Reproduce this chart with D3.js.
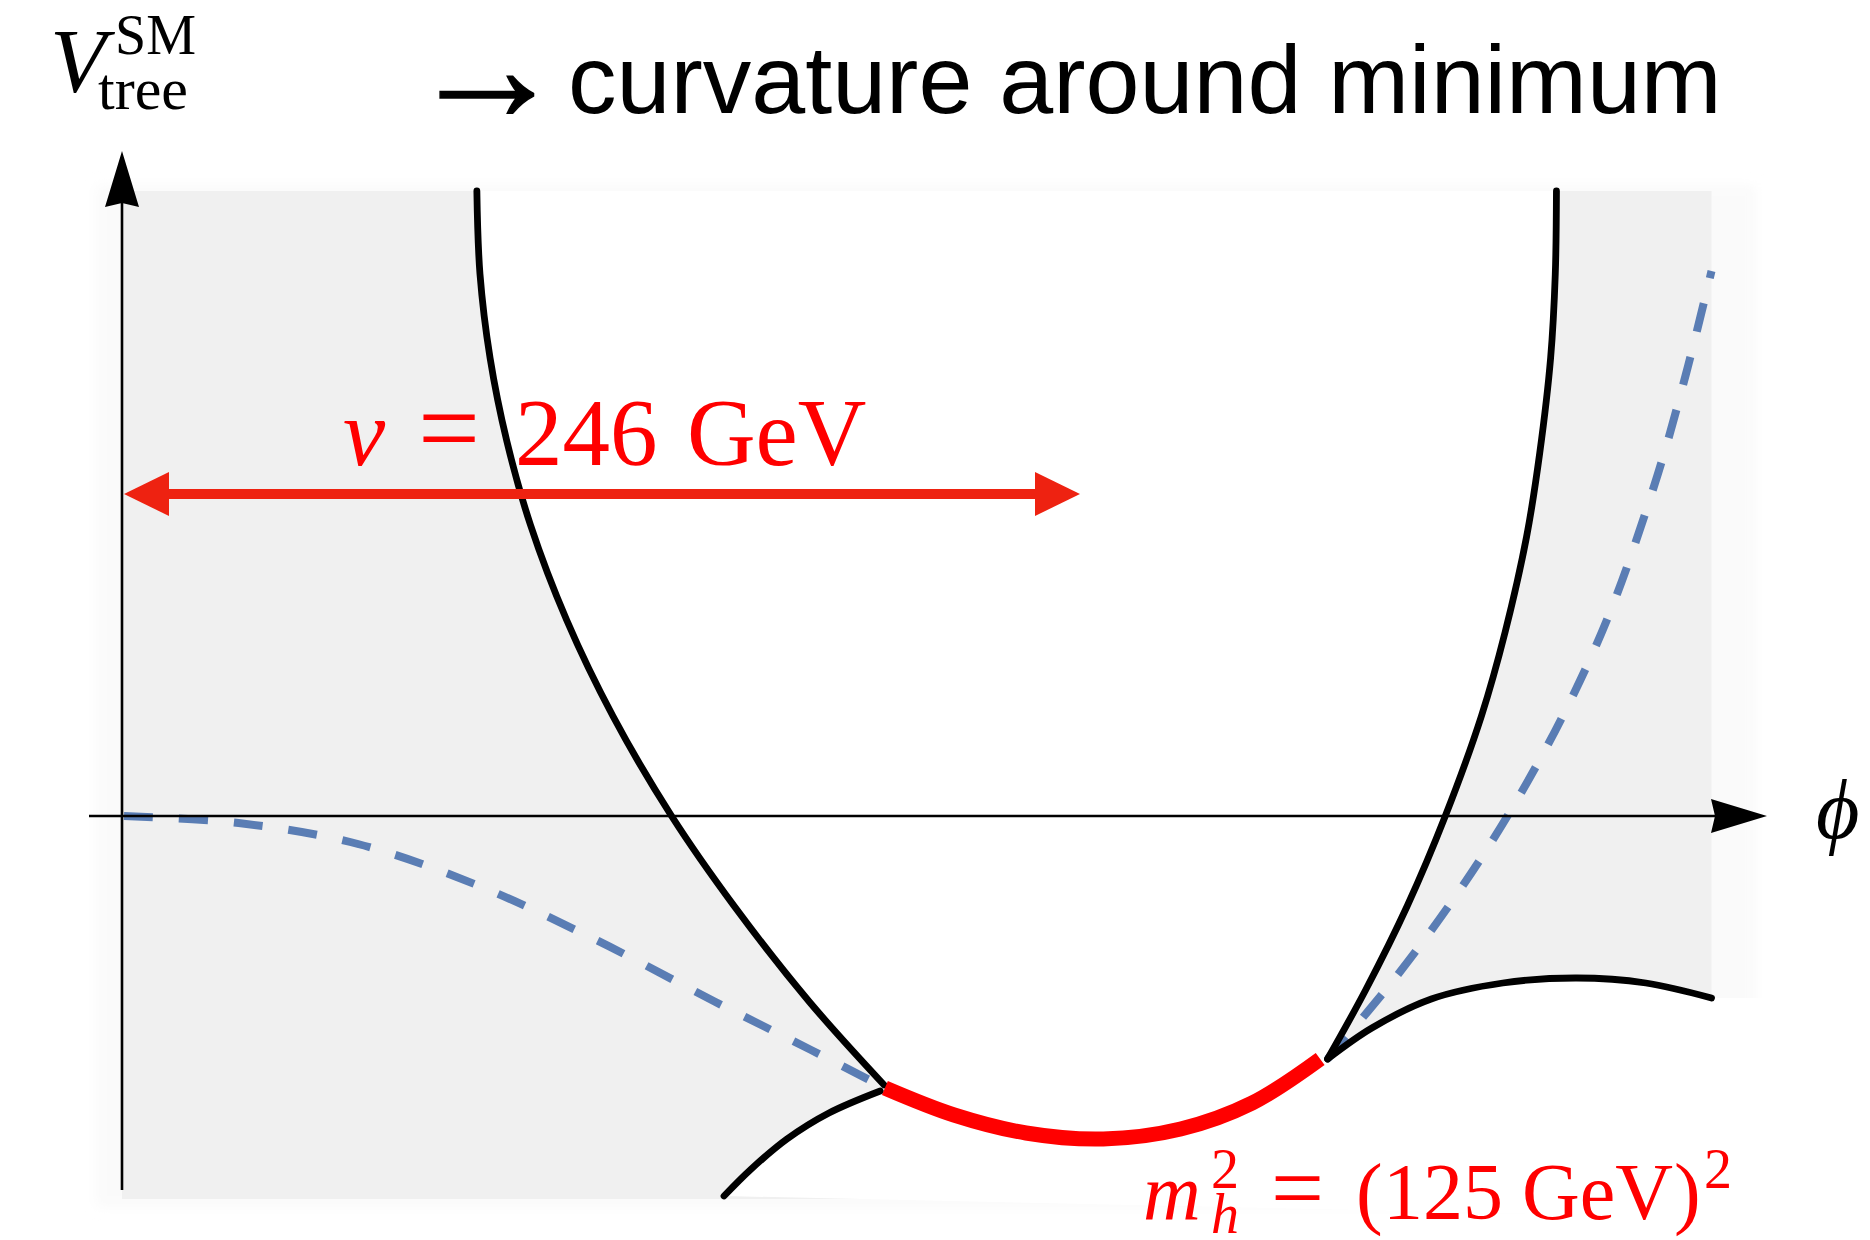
<!DOCTYPE html>
<html>
<head>
<meta charset="utf-8">
<script src="https://cdn.jsdelivr.net/npm/d3@7"></script>
<style>
  html, body { margin: 0; padding: 0; background: #ffffff; }
  svg { display: block; }
</style>
</head>
<body>
<script>
// Sketch of the tree-level Higgs potential: phi in GeV, V in arbitrary units.
const vev = 246;                 // v = 246 GeV
const mh = 125;                  // m_h = 125 GeV
const phiRight = 408.5;          // right edge of the shaded band
const vTop = 6.25, vBottom = -3.83;

// Steep black walls bounding the allowed (white) region
const leftWall  = [[90.8,6.25],[91.6,5.42],[94.2,4.58],[98.5,3.75],[104.6,2.91],[113.9,1.96],
                   [125.8,1.00],[140.9,0.00],[157.0,-0.90],[176.4,-1.86],[195.6,-2.69]];
const leftFoot  = [[194.6,-2.75],[181.4,-2.97],[170.6,-3.23],[161.4,-3.53],[154.4,-3.80]];
const rightWall = [[368.6,6.25],[368.3,5.42],[367.1,4.58],[364.3,3.63],[360.9,2.79],[355.4,1.84],
                   [349.3,1.00],[340.0,0.00],[330.2,-0.90],[319.5,-1.74],[309.7,-2.43]];
const rightFoot = [[309.7,-2.43],[321.1,-2.12],[336.4,-1.83],[354.8,-1.67],[373.8,-1.62],
                   [391.6,-1.67],[408.5,-1.82]];

// Quadratic approximation around the minimum (red)
const curvature = [[195.8,-2.72],[213.6,-2.99],[232.1,-3.17],[252.0,-3.23],[271.9,-3.13],
                   [290.3,-2.87],[307.8,-2.43]];

// Full potential (dashed blue), visible on both sides of the minimum
const potentialLeft  = [[0,0],[29.5,-0.07],[60.2,-0.28],[90.8,-0.69],[121.5,-1.24],[152.2,-1.86],
                        [176.8,-2.34],[195.8,-2.72]];
const potentialRight = [[309.7,-2.43],[327.1,-1.62],[342.5,-0.81],[356.3,0.02],[370.1,0.99],
                        [382.4,2.04],[394.7,3.42],[402.4,4.49],[408.5,5.45]];

const vArrowLevel = 3.22;        // height of the v double arrow

const W = 1870, H = 1240;
const x = d3.scaleLinear().domain([0, vev]).range([124, 1080]);
const y = d3.scaleLinear().domain([0, vTop]).range([816, 191]);

const svg = d3.select("body").append("svg")
  .attr("width", W).attr("height", H)
  .attr("viewBox", `0 0 ${W} ${H}`);

const line = d3.line()
  .x(d => x(d[0])).y(d => y(d[1]))
  .curve(d3.curveCatmullRom.alpha(0.5));

// soft halo around the band
const defs = svg.append("defs");
defs.append("filter").attr("id", "haze")
  .attr("x", "-5%").attr("y", "-5%").attr("width", "110%").attr("height", "110%")
  .append("feGaussianBlur").attr("stdDeviation", 6);
svg.append("rect")
  .attr("x", x(0) - 28).attr("y", y(vTop) - 6)
  .attr("width", x(phiRight) - x(0) + 72).attr("height", y(vBottom) - y(vTop) + 14)
  .attr("fill", "#fafafa").attr("filter", "url(#haze)");

// shaded band
svg.append("rect")
  .attr("x", x(0) - 2).attr("y", y(vTop))
  .attr("width", x(phiRight) - x(0) + 2).attr("height", y(vBottom) - y(vTop))
  .attr("fill", "#f0f0f0");

// allowed region between the walls
const seg = pts => line(pts).replace(/^M/, "L");
const whiteD = line(leftWall) + seg(leftFoot)
  + `L${x(phiRight) + 60},${y(vBottom) + 20}`
  + `L${x(phiRight) + 60},${y(rightFoot[rightFoot.length - 1][1])}`
  + seg(rightFoot.slice().reverse())
  + seg(rightWall.slice().reverse()) + "Z";
svg.append("path").attr("d", whiteD).attr("fill", "#ffffff");

// dashed full potential
[potentialLeft, potentialRight].forEach(pts => {
  svg.append("path").attr("d", line(pts))
    .attr("fill", "none").attr("stroke", "#5a7db4")
    .attr("stroke-width", 8).attr("stroke-dasharray", "29,26");
});

// black walls
[leftWall, leftFoot, rightWall, rightFoot].forEach(pts => {
  svg.append("path").attr("d", line(pts))
    .attr("fill", "none").attr("stroke", "#000000")
    .attr("stroke-width", 6.8).attr("stroke-linecap", "round");
});

// curvature around the minimum
svg.append("path").attr("d", line(curvature))
  .attr("fill", "none").attr("stroke", "#ff0000")
  .attr("stroke-width", 15).attr("stroke-linecap", "butt");

// axes
const axisX0 = 89, axisXTip = 1767, axisYTip = 151, axisYBottom = 1190;
const axX = x(0) - 2;
svg.append("line")
  .attr("x1", axisX0).attr("y1", y(0)).attr("x2", axisXTip - 40).attr("y2", y(0))
  .attr("stroke", "#000").attr("stroke-width", 2.6);
svg.append("path")
  .attr("d", `M${axisXTip},${y(0)} L${axisXTip - 56},${y(0) - 17} L${axisXTip - 52},${y(0)} L${axisXTip - 56},${y(0) + 17} Z`)
  .attr("fill", "#000");
svg.append("line")
  .attr("x1", axX).attr("y1", axisYBottom).attr("x2", axX).attr("y2", axisYTip + 40)
  .attr("stroke", "#000").attr("stroke-width", 2.6);
svg.append("path")
  .attr("d", `M${axX},${axisYTip} L${axX - 17},${axisYTip + 56} L${axX},${axisYTip + 52} L${axX + 17},${axisYTip + 56} Z`)
  .attr("fill", "#000");

// v double arrow, from phi = 0 to phi = v
const arrowRed = "#ee2211", ay = y(vArrowLevel), headL = 45, headH = 22;
svg.append("line")
  .attr("x1", x(0) + headL - 2).attr("y1", ay).attr("x2", x(vev) - headL + 2).attr("y2", ay)
  .attr("stroke", arrowRed).attr("stroke-width", 10);
svg.append("path")
  .attr("d", `M${x(0)},${ay} L${x(0) + headL},${ay - headH} L${x(0) + headL},${ay + headH} Z`)
  .attr("fill", arrowRed);
svg.append("path")
  .attr("d", `M${x(vev)},${ay} L${x(vev) - headL},${ay - headH} L${x(vev) - headL},${ay + headH} Z`)
  .attr("fill", arrowRed);

// labels
const serif = "'Liberation Serif', 'DejaVu Serif', serif";

// V_tree^SM
const vt = svg.append("text").attr("font-family", serif).attr("fill", "#000");
vt.append("tspan").attr("x", 50).attr("y", 92).attr("font-size", 92).attr("font-style", "italic").text("V");
vt.append("tspan").attr("x", 115).attr("y", 54).attr("font-size", 56).text("SM");
vt.append("tspan").attr("x", 98).attr("y", 109).attr("font-size", 60).text("tree");

// → curvature around minimum
const hd = svg.append("text").attr("fill", "#000");
hd.append("tspan").attr("x", 408).attr("y", 121)
  .attr("font-family", serif).attr("font-size", 158)
  .attr("stroke", "#000").attr("stroke-width", 1.4).text("→");
hd.append("tspan").attr("x", 568).attr("y", 113)
  .attr("font-family", "'Liberation Sans', Arial, sans-serif")
  .attr("font-size", 97).attr("stroke", "none").text("curvature around minimum");

// phi axis label
svg.append("text").attr("x", 1816).attr("y", 838).attr("font-family", serif)
  .attr("font-style", "italic").attr("font-size", 84).attr("fill", "#000").text("ϕ");

// v = 246 GeV
const vl = svg.append("text").attr("y", 465).attr("font-family", serif).attr("font-size", 95).attr("fill", "#ff0000");
vl.append("tspan").attr("x", 343).attr("font-style", "italic").text("v");
vl.append("tspan").attr("x", 418).attr("font-size", 110).text("=");
vl.append("tspan").attr("x", 515).text(vev);
vl.append("tspan").attr("x", 687).text("GeV");

// m_h^2 = (125 GeV)^2
const ml = svg.append("text").attr("font-family", serif).attr("font-size", 80).attr("fill", "#ff0000");
ml.append("tspan").attr("x", 1143).attr("y", 1219).attr("font-style", "italic").text("m");
ml.append("tspan").attr("x", 1211).attr("y", 1188).attr("font-size", 56).text("2");
ml.append("tspan").attr("x", 1211).attr("y", 1233).attr("font-size", 56).attr("font-style", "italic").text("h");
ml.append("tspan").attr("x", 1271).attr("y", 1219).attr("font-size", 94).text("=");
ml.append("tspan").attr("x", 1356).attr("y", 1219).text("(");
ml.append("tspan").attr("x", 1383).attr("y", 1219).text(mh);
ml.append("tspan").attr("x", 1522).attr("y", 1219).text("GeV");
ml.append("tspan").attr("x", 1674).attr("y", 1219).text(")");
ml.append("tspan").attr("x", 1704).attr("y", 1188).attr("font-size", 56).text("2");
</script>
</body>
</html>
